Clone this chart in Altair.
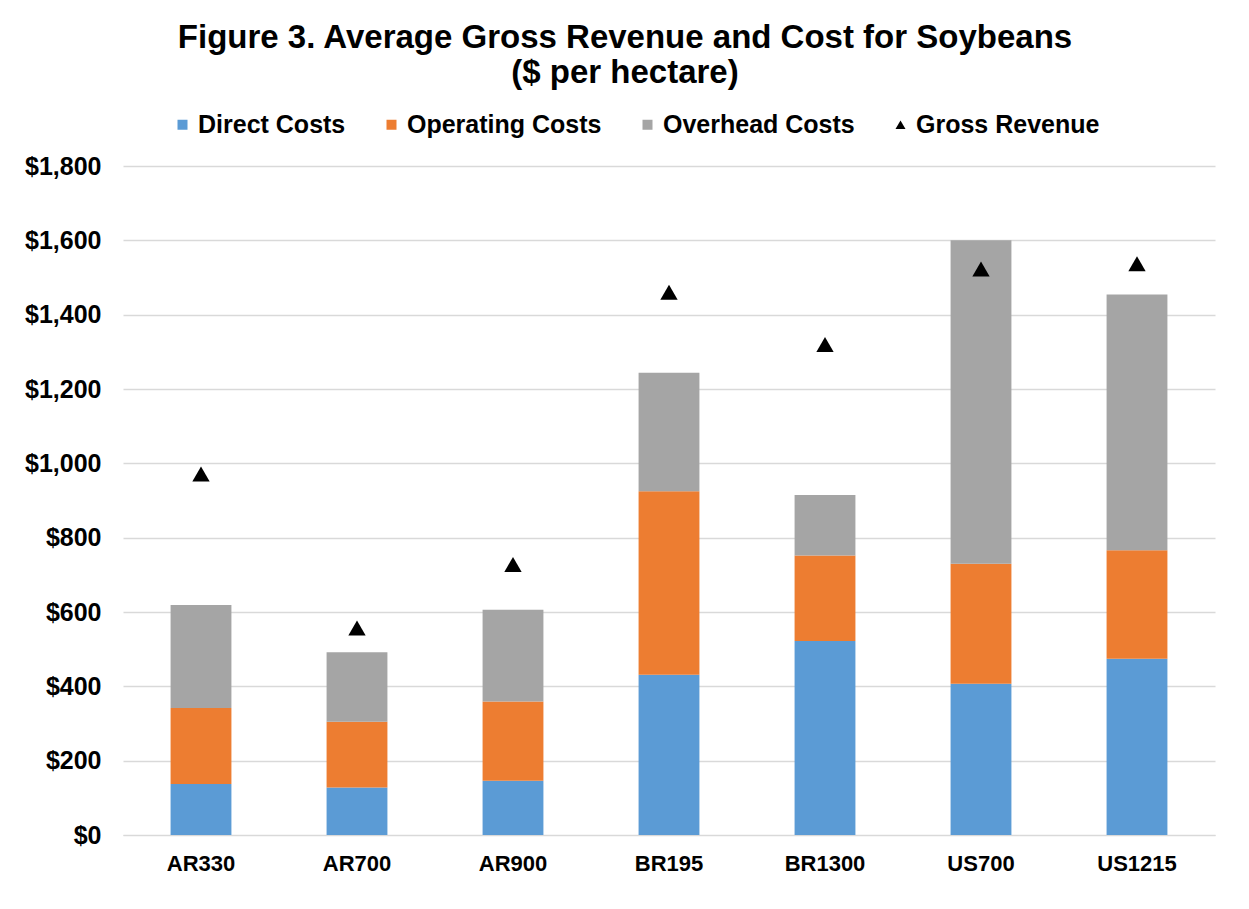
import altair as alt
import pandas as pd

categories = ["AR330", "AR700", "AR900", "BR195", "BR1300", "US700", "US1215"]
direct_costs = [137, 128, 146, 431, 522, 407, 474]
operating_costs = [205, 177, 213, 494, 230, 323, 292]
overhead_costs = [277, 187, 247, 319, 163, 870, 688]
gross_revenue = [971, 557, 728, 1460, 1320, 1523, 1537]

series = ["Direct Costs", "Operating Costs", "Overhead Costs", "Gross Revenue"]
colors = ["#5B9BD5", "#ED7D31", "#A5A5A5", "#000000"]
shapes = ["square", "square", "square", "triangle-up"]

rows = []
for i, c in enumerate(categories):
    for k, (name, vals) in enumerate(zip(series[:3], [direct_costs, operating_costs, overhead_costs])):
        rows.append({"cat": c, "series": name, "value": vals[i], "ord": k})
bars_df = pd.DataFrame(rows)
rev_df = pd.DataFrame({"cat": categories, "value": gross_revenue, "series": "Gross Revenue"})

FONT = "Liberation Sans"

x = alt.X("cat:N", sort=categories, title=None,
          scale=alt.Scale(paddingInner=0.61, paddingOuter=0.305),
          axis=alt.Axis(labelAngle=0, labelFontSize=22, labelFontWeight="bold",
                        labelColor="#000000", labelFont=FONT, ticks=False,
                        domainColor="#d9d9d9", labelPadding=18))

legend = alt.Legend(orient="none", direction="horizontal",
                    legendX=47, legendY=-54,
                    labelFontSize=25, labelFontWeight="bold", labelFont=FONT,
                    labelColor="#000000", symbolSize=100, symbolStrokeWidth=0,
                    columnPadding=33, labelOffset=3, labelLimit=400)

color = alt.Color("series:N", scale=alt.Scale(domain=series, range=colors), title=None,
                  legend=legend)
shape = alt.Shape("series:N", scale=alt.Scale(domain=series, range=shapes), title=None,
                  legend=legend)

y = alt.Y("value:Q", title=None, stack="zero",
          scale=alt.Scale(domain=[0, 1800], nice=False),
          axis=alt.Axis(values=list(range(0, 1801, 200)), format="$,.0f",
                        labelFontSize=25, labelFontWeight="bold", labelFont=FONT,
                        labelColor="#000000", ticks=False, domain=False,
                        gridColor="#d9d9d9", gridWidth=1.3, labelPadding=22))

bars = alt.Chart(bars_df).mark_bar().encode(
    x=x, y=y, color=color, order=alt.Order("ord:Q", sort="ascending")
)

pts = alt.Chart(rev_df).mark_point(filled=True, size=300, opacity=1).encode(
    x=x,
    y=alt.Y("value:Q", stack=None),
    color=color,
    shape=shape,
)

chart = alt.layer(bars, pts).properties(
    width=1092, height=669,
    autosize=alt.AutoSizeParams(type="none"),
    padding={"left": 115, "top": 158, "right": 20, "bottom": 60},
    background="white",
    title=alt.TitleParams(
        text=["Figure 3. Average Gross Revenue and Cost for Soybeans", "($ per hectare)"],
        anchor="middle", fontSize=33, fontWeight="bold", font=FONT, color="#000000",
        lineHeight=35, offset=22, frame="group", dx=-44,
    ),
).configure_view(strokeWidth=0, stroke="transparent")

chart.save("out.html", embed_options={"renderer": "svg", "actions": False})
